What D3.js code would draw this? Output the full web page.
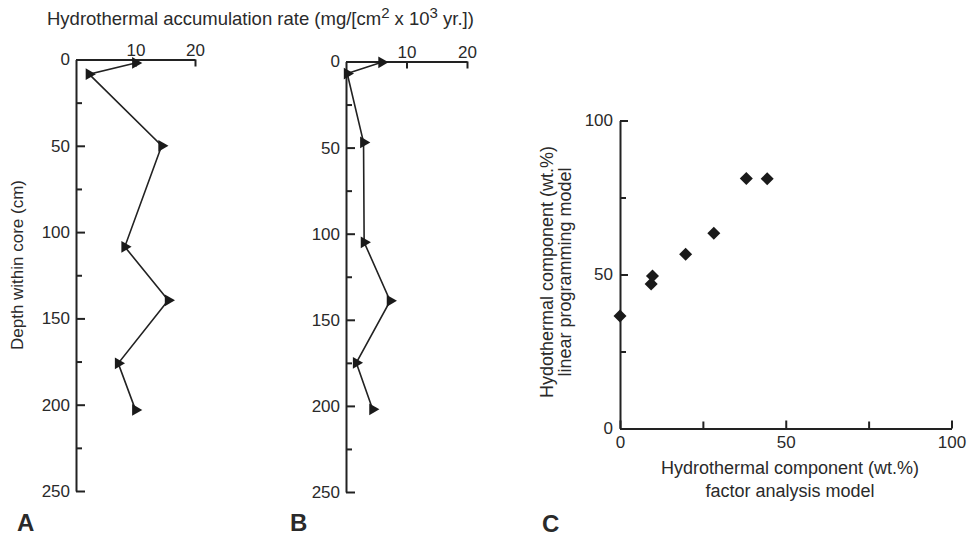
<!DOCTYPE html>
<html>
    <head>
        <meta charset="utf-8">
        <script src="https://cdn.jsdelivr.net/npm/d3@7"></script>
        <style>
            body { margin: 0; background: white; }
            text { font-family: "Liberation Sans", Arial, sans-serif; fill: #2a2a2a; }
            .axis path, .axis line { stroke: #222; stroke-width: 2; }
            .axis text { font-size: 17px; }
        </style>
    </head>
    <body>
        <svg id="fig" width="970" height="537"></svg>
        <script>
            // panel A: depth (cm) vs accumulation rate
            const depthA = [2, 8.5, 50, 108.5, 139.5, 176, 203];
            const rateA  = [10, 2.2, 14.4, 8.2, 15.5, 7.1, 10];

            // panel B
            const depthB = [0.5, 7, 47, 105, 139, 175, 202];
            const rateB  = [5.9, 0.2, 2.9, 3.0, 7.3, 1.7, 4.4];

            // panel C: factor analysis vs linear programming model
            const factorC = [0, 9.4, 9.8, 19.8, 28.3, 38.1, 44.4];
            const linearC = [36.5, 46.9, 49.5, 56.6, 63.4, 81.2, 81.1];

            const depthTicks = [0, 50, 100, 150, 200, 250];
            const depthMinor = [25, 75, 125, 175, 225];
            const rateTicks = [10, 20];
            const pctTicks = [0, 50, 100];
            const pctMinor = [25, 75];

            const svg = d3.select("#fig");

            function profile(x0, x1, y0, y1, rate, depth, letter, letterX) {
                const x = d3.scaleLinear().domain([0, 20]).range([x0, x1]);
                const y = d3.scaleLinear().domain([0, 250]).range([y0, y1]);

                // minor depth ticks
                svg.append("g").attr("class", "axis")
                    .attr("transform", "translate(" + x0 + ",0)")
                    .call(d3.axisLeft(y).tickValues(depthMinor).tickSize(-6).tickSizeOuter(0).tickFormat(""))
                    .select(".domain").remove();

                svg.append("g").attr("class", "axis")
                    .attr("transform", "translate(" + x0 + ",0)")
                    .call(d3.axisLeft(y).tickValues(depthTicks).tickSize(-9).tickSizeOuter(0).tickPadding(6));

                svg.append("g").attr("class", "axis")
                    .attr("transform", "translate(0," + y0 + ")")
                    .call(d3.axisTop(x).tickValues(rateTicks).tickSize(-7).tickSizeOuter(0).tickPadding(4));

                const line = d3.line()
                    .x(i => x(rate[i]))
                    .y(i => y(depth[i]));

                svg.append("path")
                    .attr("d", line(d3.range(rate.length)))
                    .attr("fill", "none")
                    .attr("stroke", "#222")
                    .attr("stroke-width", 1.6);

                svg.append("g").selectAll("path").data(d3.range(rate.length))
                    .enter()
                    .append("path")
                    .attr("d", d3.symbol(d3.symbolTriangle, 60))
                    .attr("transform", i => "translate(" + x(rate[i]) + "," + y(depth[i]) + ") rotate(90)")
                    .attr("fill", "#1a1a1a");

                svg.append("text")
                    .attr("x", letterX).attr("y", 531)
                    .attr("font-size", 24).attr("font-weight", "bold")
                    .text(letter);
            }

            profile(76, 195, 59.5, 491, rateA, depthA, "A", 17);
            profile(346, 467, 61.5, 492, rateB, depthB, "B", 290);

            // shared titles for A and B
            const title = svg.append("text")
                .attr("x", 47).attr("y", 25)
                .attr("font-size", 18.5);
            title.append("tspan").text("Hydrothermal accumulation rate (mg/[cm");
            title.append("tspan").attr("dy", -7).attr("font-size", 15).text("2");
            title.append("tspan").attr("dy", 7).text(" x 10");
            title.append("tspan").attr("dy", -7).attr("font-size", 15).text("3");
            title.append("tspan").attr("dy", 7).text(" yr.])");

            svg.append("text")
                .attr("transform", "translate(23,265) rotate(-90)")
                .attr("text-anchor", "middle")
                .attr("font-size", 17)
                .text("Depth within core (cm)");

            // panel C
            const xc = d3.scaleLinear().domain([0, 100]).range([620, 951.5]);
            const yc = d3.scaleLinear().domain([0, 100]).range([428.5, 120.5]);

            svg.append("g").attr("class", "axis")
                .attr("transform", "translate(620,0)")
                .call(d3.axisLeft(yc).tickValues(pctMinor).tickSize(-6).tickFormat(""))
                .select(".domain").remove();
            svg.append("g").attr("class", "axis")
                .attr("transform", "translate(620,0)")
                .call(d3.axisLeft(yc).tickValues(pctTicks).tickSize(-8).tickSizeOuter(0).tickPadding(7));

            svg.append("g").attr("class", "axis")
                .attr("transform", "translate(0,428.5)")
                .call(d3.axisBottom(xc).tickValues(pctMinor).tickSize(-7).tickFormat(""))
                .select(".domain").remove();
            svg.append("g").attr("class", "axis")
                .attr("transform", "translate(0,428.5)")
                .call(d3.axisBottom(xc).tickValues(pctTicks).tickSize(-8).tickSizeOuter(0).tickPadding(7));

            svg.append("g").selectAll("path").data(d3.range(factorC.length))
                .enter()
                .append("path")
                .attr("d", d3.symbol(d3.symbolSquare, 85))
                .attr("transform", i => "translate(" + xc(factorC[i]) + "," + yc(linearC[i]) + ") rotate(45)")
                .attr("fill", "#1a1a1a");

            svg.append("text")
                .attr("transform", "translate(553,272) rotate(-90)")
                .attr("text-anchor", "middle").attr("font-size", 18)
                .text("Hydothermal component (wt.%)");
            svg.append("text")
                .attr("transform", "translate(571,272) rotate(-90)")
                .attr("text-anchor", "middle").attr("font-size", 18)
                .text("linear programming model");

            svg.append("text")
                .attr("x", 790).attr("y", 474)
                .attr("text-anchor", "middle").attr("font-size", 18)
                .text("Hydrothermal component (wt.%)");
            svg.append("text")
                .attr("x", 790).attr("y", 497)
                .attr("text-anchor", "middle").attr("font-size", 18)
                .text("factor analysis model");

            svg.append("text")
                .attr("x", 542).attr("y", 532)
                .attr("font-size", 24).attr("font-weight", "bold")
                .text("C");
        </script>
    </body>
</html>
